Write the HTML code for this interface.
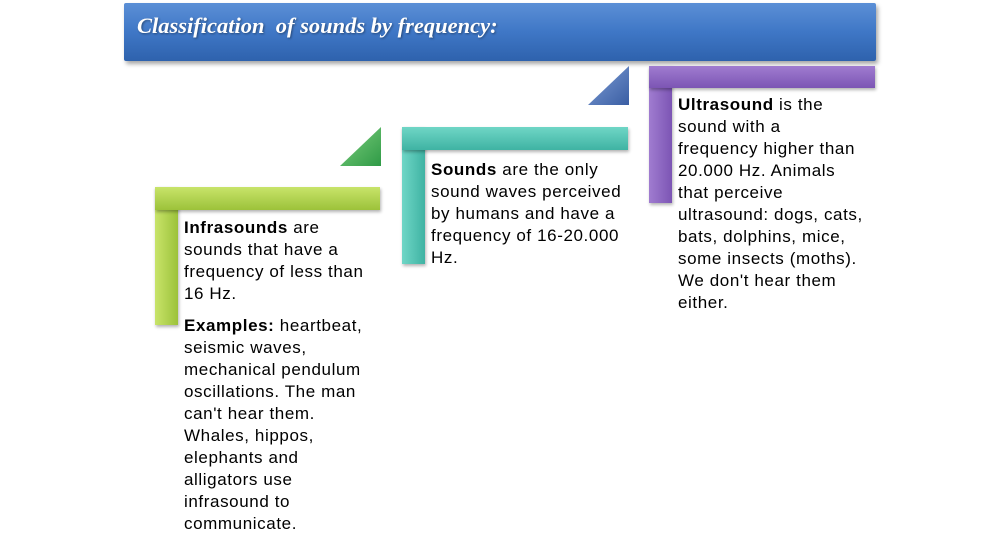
<!DOCTYPE html>
<html><head><meta charset="utf-8"><style>
body{margin:0;width:1000px;height:538px;background:#fff;position:relative;overflow:hidden;font-family:"Liberation Sans",sans-serif}
.abs{position:absolute}
.title{left:124px;top:3px;width:752px;height:58px;background:linear-gradient(#5b8fd6,#3f77c6 50%,#2e62ad);box-shadow:2px 3px 4px rgba(0,0,0,.35);border-radius:2px}
.title span{position:absolute;left:13px;top:10px;font:italic bold 22.5px "Liberation Serif",serif;color:#fff;text-shadow:1px 1px 2px rgba(0,0,0,.4);white-space:nowrap}
.bar{position:absolute;box-shadow:1px 2px 3px rgba(0,0,0,.3)}
.txt{position:absolute;font-size:17px;letter-spacing:0.6px;line-height:22px;color:#000;white-space:nowrap}
.txt b{font-weight:bold}
</style></head><body>
<div class="abs title"><span>Classification&nbsp; of sounds by frequency:</span></div>

<svg class="abs" style="left:0;top:0" width="1000" height="538">
<defs>
<linearGradient id="gb" x1="0" y1="0" x2="1" y2="1"><stop offset="0" stop-color="#7f9ed6"/><stop offset="1" stop-color="#3a5ea3"/></linearGradient>
<linearGradient id="gg" x1="0" y1="0" x2="1" y2="1"><stop offset="0" stop-color="#7fd07f"/><stop offset="1" stop-color="#2f9a46"/></linearGradient>
</defs>
<polygon points="629,66 629,105 588,105" fill="url(#gb)"/>
<polygon points="381,127 381,166 340,166" fill="url(#gg)"/>
</svg>

<div class="bar" style="left:649px;top:66px;width:23px;height:137px;background:linear-gradient(90deg,#a07cd0,#7c55b4)"></div>
<div class="bar" style="left:649px;top:66px;width:226px;height:22px;background:linear-gradient(#a07cd0,#7c55b4)"></div>
<div class="bar" style="left:402px;top:127px;width:23px;height:137px;background:linear-gradient(90deg,#6fd6c6,#3fb3a3)"></div>
<div class="bar" style="left:402px;top:127px;width:226px;height:23px;background:linear-gradient(#6fd6c6,#3fb3a3)"></div>
<div class="bar" style="left:155px;top:187px;width:23px;height:138px;background:linear-gradient(90deg,#c8e46a,#9cc23a)"></div>
<div class="bar" style="left:155px;top:187px;width:225px;height:23px;background:linear-gradient(#c8e46a,#9cc23a)"></div>

<div class="txt" style="left:678px;top:94px"><b>Ultrasound</b> is the<br>sound with a<br>frequency higher than<br>20.000 Hz. Animals<br>that perceive<br>ultrasound: dogs, cats,<br>bats, dolphins, mice,<br>some insects (moths).<br>We don't hear them<br>either.</div>
<div class="txt" style="left:431px;top:159px"><b>Sounds</b> are the only<br>sound waves perceived<br>by humans and have a<br>frequency of 16-20.000<br>Hz.</div>
<div class="txt" style="left:184px;top:217px"><b>Infrasounds</b> are<br>sounds that have a<br>frequency of less than<br>16 Hz.</div>
<div class="txt" style="left:184px;top:315px"><b>Examples:</b> heartbeat,<br>seismic waves,<br>mechanical pendulum<br>oscillations. The man<br>can't hear them.<br>Whales, hippos,<br>elephants and<br>alligators use<br>infrasound to<br>communicate.</div>
</body></html>
